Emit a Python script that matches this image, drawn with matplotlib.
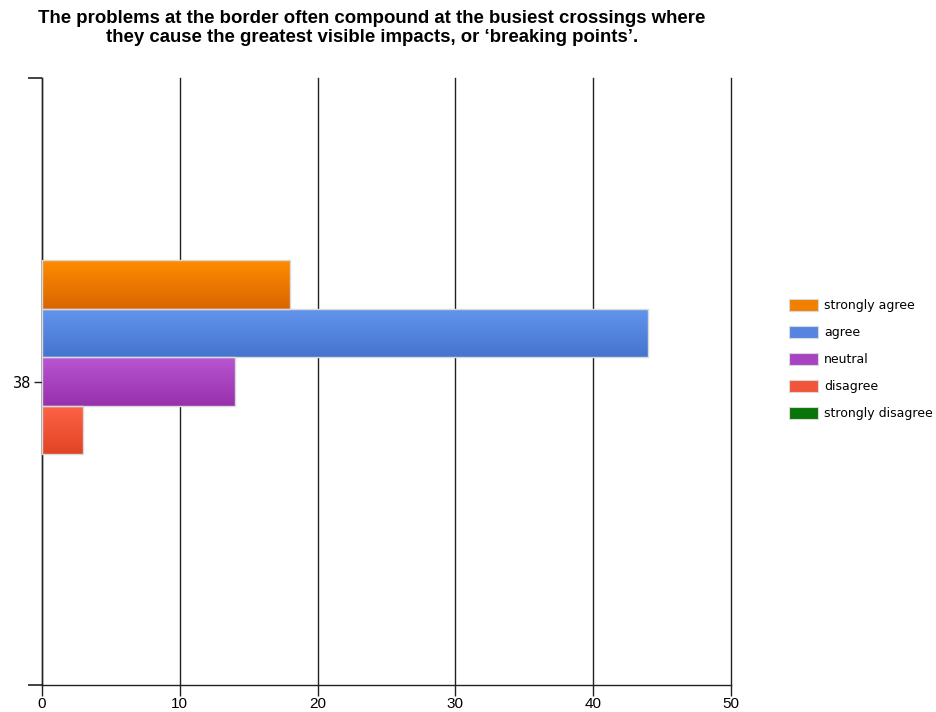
import matplotlib
matplotlib.use("Agg")
import matplotlib.pyplot as plt
import numpy as np
from matplotlib.colors import LinearSegmentedColormap
from matplotlib.patches import Patch

# Survey responses for the single question (category "38")
category = "38"
responses = ["strongly agree", "agree", "neutral", "disagree", "strongly disagree"]
counts = [18, 44, 14, 3, 0]
# (top colour, bottom colour) for each response's gradient fill
top_colors = ["#ff8c00", "#6495ed", "#ba55d3", "#ff6347", "#0a7d0a"]
bottom_colors = ["#d96500", "#4474cf", "#9630ab", "#e04424", "#066806"]
legend_colors = ["#f08000", "#5585e0", "#a844c2", "#f0553a", "#087508"]

title = ("The problems at the border often compound at the busiest crossings where\n"
         "they cause the greatest visible impacts, or \u2018breaking points\u2019.")

line_col = "#222222"

W, H = 936, 712
fig = plt.figure(figsize=(W / 100, H / 100), dpi=100)
ax = fig.add_axes([42 / W, 1 - 685 / H, (731 - 42) / W, (685 - 78) / H])

bar_h = 0.08
n = len(responses)
# first response at the top of the group
ys = [(n - 1) / 2 * bar_h - i * bar_h for i in range(n)]

bars = ax.barh(ys, counts, height=bar_h, left=0,
               color=legend_colors, edgecolor="none", linewidth=0, zorder=3)

# Replace flat fill with a vertical gradient clipped to each bar
grad = np.linspace(0, 1, 64).reshape(-1, 1)
for bar, c0, c1 in zip(bars, bottom_colors, top_colors):
    if bar.get_width() <= 0:
        continue
    x0, y0 = bar.get_x(), bar.get_y()
    x1, y1 = x0 + bar.get_width(), y0 + bar.get_height()
    cmap = LinearSegmentedColormap.from_list("g", [c0, c1])
    im = ax.imshow(grad, cmap=cmap, extent=(x0, x1, y0, y1), origin="lower",
                   aspect="auto", zorder=3.5, interpolation="bilinear")
    im.set_clip_path(bar)
    edge = plt.Rectangle((x0, y0), x1 - x0, y1 - y0, fill=False,
                         edgecolor="#d9d9d9", linewidth=1.0, zorder=4)
    ax.add_patch(edge)

ax.set_xlim(0, 50)
ax.set_ylim(-0.5, 0.5)
ax.set_xticks(range(0, 51, 10))
ax.set_yticks([0])
ax.set_yticklabels([category])
ax.set_yticks([-0.5, 0.5], minor=True)

ax.xaxis.grid(True, color=line_col, linewidth=1.0, zorder=0)
ax.set_axisbelow(True)
for gl in ax.get_xgridlines():
    gl.set_clip_on(False)

for side in ("top", "right"):
    ax.spines[side].set_visible(False)
for side in ("left", "bottom"):
    ax.spines[side].set_color(line_col)
    ax.spines[side].set_linewidth(1.0)

ax.tick_params(axis="x", direction="out", length=8, width=1.0, color=line_col,
               pad=1, labelsize=11, labelfontfamily="Liberation Sans")
ax.tick_params(axis="y", which="major", direction="out", length=6, width=1.0,
               color=line_col, pad=2, labelsize=10.5)
ax.tick_params(axis="y", which="minor", direction="out", length=10, width=1.2,
               color=line_col)

fig.text(372 / W, 1 - 28 / H, title, ha="center", va="center",
         fontsize=13.4, fontweight="bold", family="Liberation Sans",
         linespacing=1.2)

handles = [Patch(facecolor=c, edgecolor="#d9d9d9", linewidth=0.8) for c in legend_colors]
fig.legend(handles, responses, loc="upper left",
           bbox_to_anchor=(778 / W, 1 - 288 / H), frameon=False,
           fontsize=9, handlelength=2.3, handleheight=1.0,
           handletextpad=0.5, labelspacing=1.12)

fig.savefig("out.png", dpi=100)
